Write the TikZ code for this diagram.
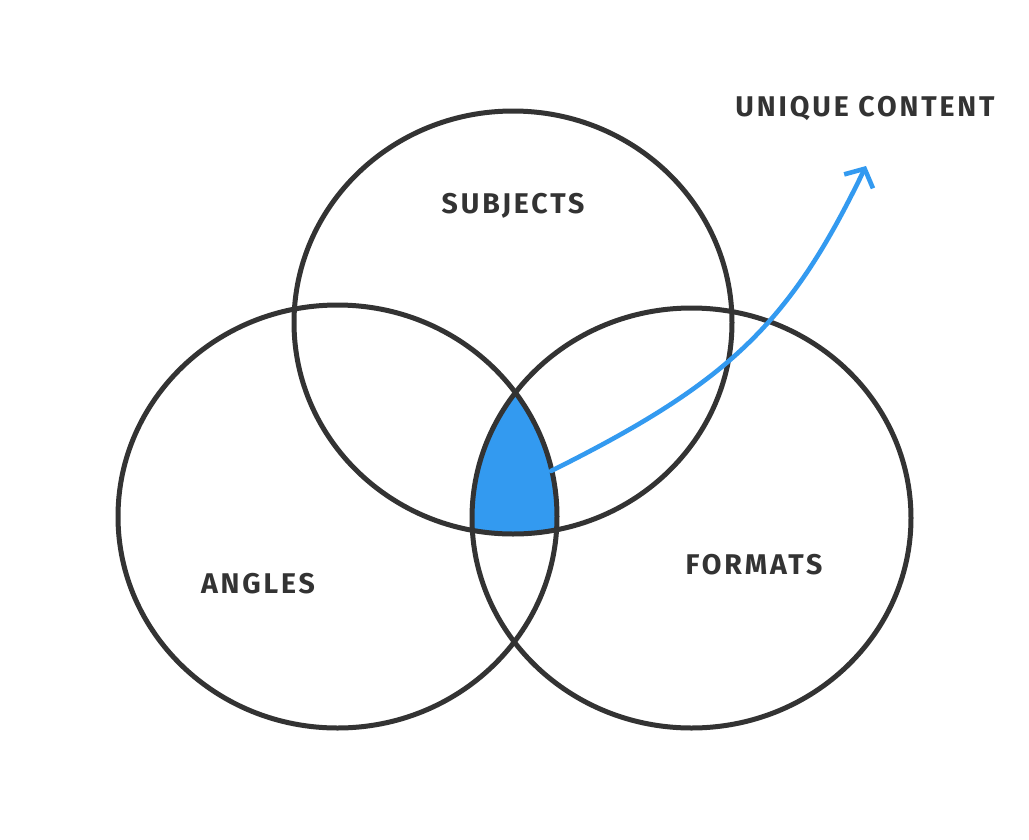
\documentclass[tikz,border=0pt]{standalone}
\usepackage{fontspec}
\setmainfont{Fira Sans}
\newfontfamily\handfont[LetterSpace=10]{Fira Sans}
\usetikzlibrary{arrows.meta}
\definecolor{ink}{HTML}{333333}
\definecolor{exblue}{HTML}{339AF0}
\tikzset{
  venn/.style={draw=ink, line width=5pt},
  lbl/.style={text=ink, font=\handfont\bfseries\fontsize{28.5}{32}\selectfont, inner sep=0pt},
  pointer/.style={draw=exblue, line width=4.6pt, line cap=round, -{Straight Barb[length=14pt,width=32pt,line width=4.6pt]}}
}
\begin{document}
\begin{tikzpicture}[x=1pt,y=-1pt]
\useasboundingbox (0,0) rectangle (1029,839);
\fill[white] (0,0) rectangle (1029,839);
% triple intersection
\begin{scope}
  \clip (513,322.5) ellipse [x radius=219, y radius=211.5];
  \clip (337.5,516.5) ellipse [x radius=219.5, y radius=211.5];
  \fill[exblue] (691.5,518) ellipse [x radius=219.5, y radius=210];
\end{scope}
\draw[venn] (513,322.5) ellipse [x radius=219, y radius=211.5];
\draw[venn] (337.5,516.5) ellipse [x radius=219.5, y radius=211.5];
\draw[venn] (691.5,518) ellipse [x radius=219.5, y radius=210];
\node[lbl] (subjects) at (513,206) {SUBJECTS};
\node[lbl] (angles) at (258,584) {ANGLES};
\node[lbl] (formats) at (754,565) {FORMATS};
\node[lbl] (unique) at (865,108) {UNIQUE CONTENT};
\coordinate (core) at (551,471);
\coordinate (tip) at (866,166);
\draw[pointer] (core) .. controls (730,382) and (790,323) .. (tip);
\end{tikzpicture}
\end{document}
